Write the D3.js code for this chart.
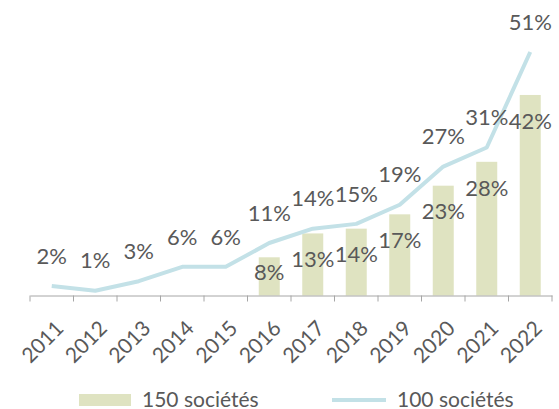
<!DOCTYPE html>
<html>
<head>
<meta charset="utf-8">
<script src="https://cdn.jsdelivr.net/npm/d3@7"></script>
<style>
  body { margin: 0; background: #fff; }
  text { font-family: Lato, "Open Sans", sans-serif; fill: #595959; }
</style>
</head>
<body>
<div id="chart"></div>
<script>
// Data
const years = ["2011", "2012", "2013", "2014", "2015", "2016", "2017", "2018", "2019", "2020", "2021", "2022"];
const line100 = [2, 1, 3, 6, 6, 11, 14, 15, 19, 27, 31, 51]; // 100 sociétés
const barYears = ["2016", "2017", "2018", "2019", "2020", "2021", "2022"];
const bar150 = [8, 13, 14, 17, 23, 28, 42]; // 150 sociétés
const seriesNames = ["150 sociétés", "100 sociétés"];

const width = 559, height = 409;
const barColor = "#dfe3c1";
const lineColor = "#c3e1e7";

const svg = d3.select("#chart").append("svg")
  .attr("width", width)
  .attr("height", height);

// Scales
const x = d3.scaleBand()
  .domain(years)
  .range([30, 552]);

const y = d3.scaleLinear()
  .domain([0, 51])
  .range([295.5, 52]);

const bandCenter = d => x(d) + x.bandwidth() / 2;

// Bars
const bars = barYears.map((yr, i) => ({ year: yr, value: bar150[i] }));
svg.selectAll(".bar")
  .data(bars)
  .enter()
  .append("rect")
  .attr("class", "bar")
  .attr("x", d => bandCenter(d.year) - 10.5)
  .attr("width", 21)
  .attr("y", d => y(d.value))
  .attr("height", d => y(0) - y(d.value))
  .style("fill", barColor);

// Line
const points = years.map((yr, i) => ({ year: yr, value: line100[i] }));
svg.append("path")
  .datum(points)
  .attr("d", d3.line().x(d => bandCenter(d.year)).y(d => y(d.value)))
  .style("fill", "none")
  .style("stroke", lineColor)
  .style("stroke-width", 4)
  .style("stroke-linejoin", "round");

// X axis
const axis = svg.append("g")
  .attr("transform", `translate(0,${y(0)})`)
  .call(d3.axisBottom(x).tickSize(0).tickFormat(""));
axis.select(".domain").attr("stroke", "#a6a6a6");
// boundary ticks
const bounds = years.map(d => x(d)).concat([x(years[years.length - 1]) + x.step()]);
axis.selectAll(".bnd")
  .data(bounds)
  .enter()
  .append("line")
  .attr("x1", d => d).attr("x2", d => d)
  .attr("y1", 0).attr("y2", 6)
  .attr("stroke", "#a6a6a6");

// tick labels
svg.selectAll(".ylab")
  .data(years)
  .enter()
  .append("text")
  .attr("transform", d => `translate(${bandCenter(d) + 8},${y(0) + 29}) rotate(-45)`)
  .attr("text-anchor", "end")
  .attr("dy", "0.35em")
  .style("font-size", "21px")
  .text(d => d);

// Line labels
svg.selectAll(".llab")
  .data(points)
  .enter()
  .append("text")
  .attr("x", d => bandCenter(d.year))
  .attr("y", d => y(d.value) - 30)
  .attr("dy", "0.35em")
  .attr("text-anchor", "middle")
  .style("font-size", "22px")
  .text(d => d.value + "%");

// Bar labels
svg.selectAll(".blab")
  .data(bars)
  .enter()
  .append("text")
  .attr("x", d => bandCenter(d.year))
  .attr("y", d => {
    const top = y(d.value), h = y(0) - top;
    return Math.min(top + 26, top + h / 2 - 4);
  })
  .attr("dy", "0.35em")
  .attr("text-anchor", "middle")
  .style("font-size", "22px")
  .text(d => d.value + "%");

// Legend
const lg = svg.append("g");
lg.append("rect")
  .attr("x", 79).attr("y", 394)
  .attr("width", 52).attr("height", 12)
  .style("fill", barColor);
lg.append("text")
  .attr("x", 142).attr("y", 407)
  .style("font-size", "21px")
  .text(seriesNames[0]);
lg.append("line")
  .attr("x1", 332).attr("x2", 386)
  .attr("y1", 400).attr("y2", 400)
  .style("stroke", lineColor)
  .style("stroke-width", 4);
lg.append("text")
  .attr("x", 397).attr("y", 407)
  .style("font-size", "21px")
  .text(seriesNames[1]);
</script>
</body>
</html>
